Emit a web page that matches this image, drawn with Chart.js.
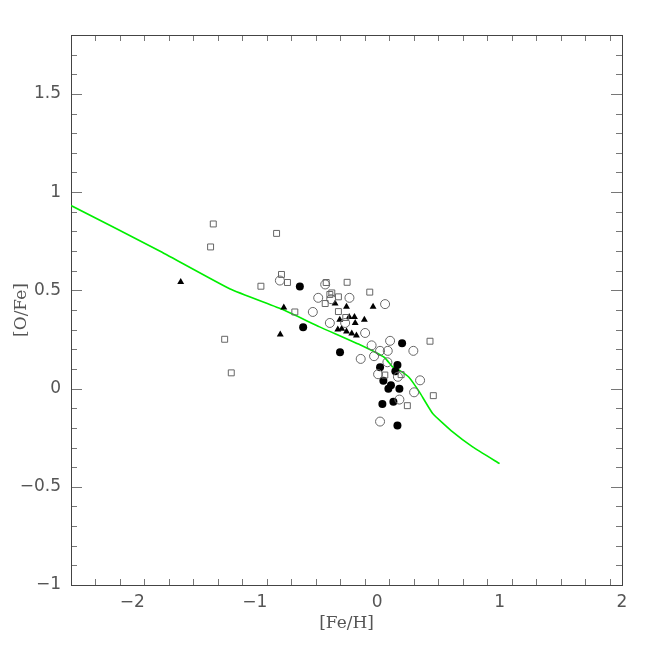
<!DOCTYPE html>
<html lang="en">
<head>
<meta charset="UTF-8">
<title>[O/Fe] vs [Fe/H]</title>
<script src="https://cdn.jsdelivr.net/npm/chart.js"></script>
<style>
  html, body { margin: 0; padding: 0; background: #fff; }
  #wrap { width: 654px; height: 654px; }
</style>
</head>
<body>
<div id="wrap"><canvas id="myChart" width="654" height="654"></canvas></div>
<script>
// axis ticks
const xTickVals = [-2, -1, 0, 1, 2];
const yTickVals = [-1, -0.5, 0, 0.5, 1, 1.5];

// open squares
const sqFeH = [-1.338, -0.821, -1.360, -0.781, -0.732, -0.949, -0.672, -1.245, -1.191, -0.416, -0.245, -0.370, -0.386, -0.316, -0.424, -0.060, -0.316, -0.256, 0.432, 0.063, 0.196, 0.247, 0.459];
const sqOFe = [0.838, 0.790, 0.721, 0.581, 0.540, 0.521, 0.390, 0.251, 0.080, 0.540, 0.541, 0.487, 0.479, 0.467, 0.433, 0.491, 0.392, 0.362, 0.241, 0.069, 0.071, -0.087, -0.036];

// open circles
const ocFeH = [-0.794, -0.424, -0.481, -0.375, -0.226, -0.525, -0.386, 0.065, -0.098, -0.261, -0.045, -0.134, -0.025, 0.024, 0.087, 0.106, 0.296, 0.084, 0.008, 0.351, 0.302, 0.182, 0.024, 0.17];
const ocOFe = [0.550, 0.530, 0.462, 0.455, 0.462, 0.390, 0.334, 0.430, 0.283, 0.334, 0.220, 0.151, 0.165, 0.192, 0.192, 0.243, 0.192, 0.134, 0.073, 0.042, -0.019, -0.056, -0.168, 0.06];

// filled circles
const fcFeH = [-0.631, -0.604, -0.303, 0.204, 0.166, 0.024, 0.149, 0.051, 0.113, 0.092, 0.182, 0.043, 0.133, 0.166];
const fcOFe = [0.520, 0.312, 0.185, 0.231, 0.120, 0.109, 0.088, 0.040, 0.017, -0.001, -0.001, -0.078, -0.067, -0.188];

// filled triangles
const trFeH = [-1.604, -0.762, -0.791, -0.343, -0.250, -0.033, -0.305, -0.228, -0.185, -0.104, -0.179, -0.321, -0.289, -0.250, -0.207, -0.169];
const trOFe = [0.543, 0.413, 0.275, 0.433, 0.416, 0.416, 0.351, 0.365, 0.365, 0.351, 0.334, 0.301, 0.304, 0.290, 0.280, 0.270];

// model curve
const modelFeH = [-2.5, -1.78, -1.2, -0.77, -0.47, -0.144, 0.06, 0.127, 0.18, 0.26, 0.345, 0.454, 0.617, 0.78, 1.0];
const modelOFe = [0.932, 0.702, 0.507, 0.402, 0.314, 0.224, 0.158, 0.110, 0.094, 0.058, -0.017, -0.127, -0.221, -0.297, -0.382];

const pts = (xs, ys) => xs.map((x, i) => ({ x: x, y: ys[i] }));
const minus = v => (v < 0 ? '\u2212' + Math.abs(v) : String(v));

// inward ticks on all four sides plus the frame
const frame = {
  id: 'frame',
  beforeDatasetsDraw(chart) {
    const { ctx, chartArea: a, scales: { x, y } } = chart;
    ctx.save();
    ctx.strokeStyle = '#777';
    ctx.lineWidth = 1;
    ctx.beginPath();
    for (let i = -25; i <= 20; i += 2) {
      const px = Math.round(x.getPixelForValue(i / 10)) + 0.5;
      const len = i % 10 === 0 ? 11 : 6;
      ctx.moveTo(px, a.bottom); ctx.lineTo(px, a.bottom - len);
      ctx.moveTo(px, a.top); ctx.lineTo(px, a.top + len);
    }
    for (let i = -10; i <= 18; i += 1) {
      const py = Math.round(y.getPixelForValue(i / 10)) + 0.5;
      const len = i % 5 === 0 ? 11 : 6;
      ctx.moveTo(a.left, py); ctx.lineTo(a.left + len, py);
      ctx.moveTo(a.right, py); ctx.lineTo(a.right - len, py);
    }
    ctx.stroke();
    ctx.strokeStyle = '#444';
    ctx.strokeRect(Math.round(a.left) + 0.5, Math.round(a.top) + 0.5,
                   Math.round(a.right - a.left), Math.round(a.bottom - a.top));
    ctx.restore();
  }
};

const tickFont = { family: 'DejaVu Sans', size: 17, weight: 'normal' };
const titleFont = { family: 'DejaVu Serif', size: 17, weight: 'normal' };

new Chart(document.getElementById('myChart').getContext('2d'), {
  type: 'scatter',
  data: {
    datasets: [
      {
        label: 'model',
        data: pts(modelFeH, modelOFe),
        showLine: true,
        borderColor: '#00ee00',
        borderWidth: 1.6,
        pointRadius: 0,
        fill: false,
        tension: 0.12,
        order: 5
      },
      {
        label: 'squares',
        data: pts(sqFeH, sqOFe),
        pointStyle: 'rect',
        pointRadius: 4.2,
        borderColor: '#666',
        borderWidth: 1,
        backgroundColor: 'rgba(255,255,255,0)'
      },
      {
        label: 'open circles',
        data: pts(ocFeH, ocOFe),
        pointStyle: 'circle',
        pointRadius: 4.5,
        borderColor: '#666',
        borderWidth: 1,
        backgroundColor: 'rgba(255,255,255,0)'
      },
      {
        label: 'filled circles',
        data: pts(fcFeH, fcOFe),
        pointStyle: 'circle',
        pointRadius: 4,
        borderColor: '#000',
        borderWidth: 0,
        backgroundColor: '#000'
      },
      {
        label: 'triangles',
        data: pts(trFeH, trOFe),
        pointStyle: 'triangle',
        pointRadius: 4,
        borderColor: '#000',
        borderWidth: 0,
        backgroundColor: '#000'
      }
    ]
  },
  options: {
    responsive: false,
    animation: false,
    layout: { padding: { top: 35, right: 32, left: 0, bottom: 0 } },
    plugins: { legend: { display: false }, tooltip: { enabled: false } },
    scales: {
      x: {
        type: 'linear',
        min: -2.5,
        max: 2,
        afterBuildTicks: axis => { axis.ticks = xTickVals.map(v => ({ value: v })); },
        afterFit: scale => { scale.height = 69; },
        grid: { display: false, drawTicks: false },
        border: { display: false },
        ticks: { callback: minus, font: tickFont, color: '#555', padding: 7, maxRotation: 0 },
        title: { display: true, text: '[Fe/H]', font: titleFont, color: '#555', padding: { top: 0, bottom: 20 } }
      },
      y: {
        type: 'linear',
        min: -1,
        max: 1.8,
        afterBuildTicks: axis => { axis.ticks = yTickVals.map(v => ({ value: v })); },
        afterFit: scale => { scale.width = 71; },
        grid: { display: false, drawTicks: false },
        border: { display: false },
        ticks: { callback: minus, font: tickFont, color: '#555', padding: 10 },
        title: { display: true, text: '[O/Fe]', font: titleFont, color: '#555', padding: { top: 11, bottom: 0 } }
      }
    }
  },
  plugins: [frame]
});
</script>
</body>
</html>
